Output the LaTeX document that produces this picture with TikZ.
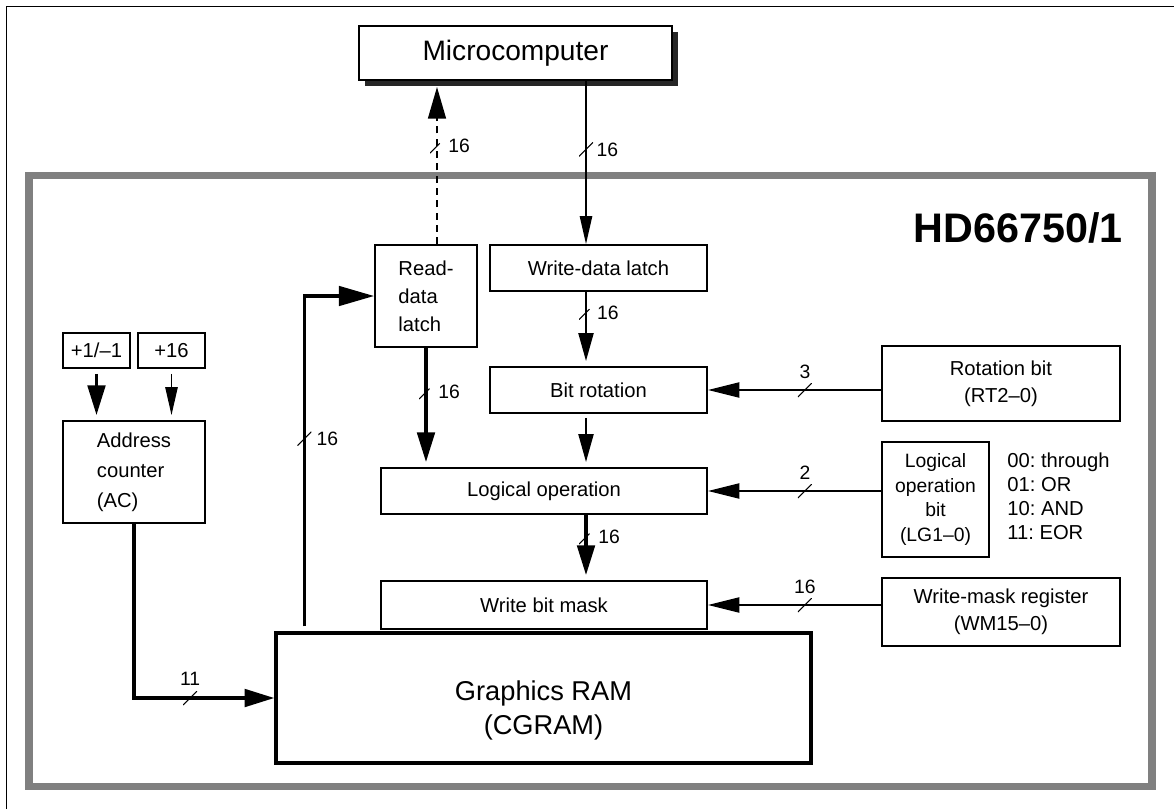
\documentclass[tikz,border=0pt]{standalone}
\usepackage{fontspec}
\setmainfont{Liberation Sans}
\usetikzlibrary{arrows.meta,shadows}

\tikzset{
  blk/.style={draw, line width=1pt, fill=white, inner sep=1pt, align=center, font=\fontsize{11.5}{15.3}\selectfont},
  hostbox/.style={blk, font=\fontsize{16}{19}\selectfont, drop shadow={shadow xshift=0.12cm, shadow yshift=-0.12cm, fill=black!85, opacity=1}},
  bigtip/.style={-{Triangle[length=17pt,width=10pt]}},
  thickbus/.style={line width=2pt, bigtip},
  midbus/.style={line width=1.4pt, -{Triangle[length=16pt,width=8.5pt]}},
  thinbus/.style={line width=1pt, -{Triangle[length=16pt,width=7pt]}},
  sidebus/.style={line width=1.5pt, -{Triangle[length=18pt,width=8.5pt]}},
  buscut/.style={inner sep=0pt, minimum size=0.28cm, label distance=0.1cm,
    path picture={\draw[solid, -, line width=0.6pt] (path picture bounding box.south west) -- (path picture bounding box.north east);}},
  buslabel/.style={font=\fontsize{11}{12}\selectfont, inner sep=1pt}
}

\begin{document}
\begin{tikzpicture}[x=0.02cm, y=-0.02cm]
\useasboundingbox (0,0) rectangle (1174,809);
% frames
\draw[line width=1pt] (6.5,809) -- (6.5,6.5) -- (1174,6.5);
\draw[black!50, line width=4.5pt] (29,175.5) rectangle (1152,786.5);
\node[font=\fontsize{23.5}{28}\selectfont\bfseries, anchor=base east, inner sep=0pt] (chip) at (1123,242) {HD66750/1};

% blocks
\node[hostbox, minimum width=6.26cm, minimum height=1.08cm] (micro) at (515.5,53) {Microcomputer};
\node[blk, align=left, minimum width=2.04cm, minimum height=2.04cm, font=\fontsize{11.5}{16}\selectfont] (rdl) at (426,296) {Read-\\data\\latch};
\node[blk, minimum width=4.34cm, minimum height=0.92cm] (wdl) at (598.5,268) {Write-data latch};
\node[blk, minimum width=4.34cm, minimum height=0.92cm] (bitrot) at (598.5,390) {Bit rotation};
\node[blk, minimum width=6.52cm, minimum height=0.92cm] (logop) at (544,491) {Logical operation};
\node[blk, minimum width=6.52cm, minimum height=0.96cm] (wbm) at (544,605) {Write bit mask};
\node[draw, line width=1.9pt, minimum width=10.7cm, minimum height=2.6cm, align=center, font=\fontsize{15.5}{19.3}\selectfont] (gram) at (543.5,698) {\rule{0pt}{25pt}Graphics RAM\\(CGRAM)};

\node[blk, minimum width=1.34cm, minimum height=0.7cm] (inc1) at (96.5,350.5) {+1/\textendash1};
\node[blk, minimum width=1.34cm, minimum height=0.7cm] (inc16) at (171.5,350.5) {+16};
\node[blk, align=left, minimum width=2.84cm, minimum height=2.04cm, font=\fontsize{11.5}{17}\selectfont] (ac) at (134,472) {Address\\counter\\(AC)};

\node[blk, minimum width=4.76cm, minimum height=1.5cm] (rotbit) at (1001,383.5) {Rotation bit\\(RT2\textendash0)};
\node[blk, minimum width=2.14cm, minimum height=2.3cm, font=\fontsize{11}{14.2}\selectfont] (logbit) at (935.5,499.5) {Logical\\operation\\bit\\(LG1\textendash0)};
\node[blk, minimum width=4.76cm, minimum height=1.36cm] (wmreg) at (1001,612) {Write-mask register\\(WM15\textendash0)};
\node[anchor=west, align=left, inner sep=0pt, font=\fontsize{11.5}{13.6}\selectfont\frenchspacing] (lgkey) at (1007,496) {00: through\\01: OR\\10: AND\\11: EOR};

% buses
\coordinate (rdtap) at ([xshift=0.22cm]rdl.north);
\coordinate (wrtap) at ([xshift=-0.25cm]wdl.north);
\draw[line width=1.5pt, dash pattern=on 4pt off 3pt, -{Triangle[length=18pt,width=10pt]}, shorten >=0.12cm] (rdtap) -- (rdtap |- micro.south)
  node[buscut, pos=0.6, label={[buslabel, name=lab1]right:16}] (cut1) {};
\draw[thinbus] (wrtap |- micro.south) -- (wrtap)
  node[buscut, pos=0.42, label={[buslabel, name=lab2]right:16}] (cut2) {};
\draw[midbus, shorten >=0.1cm] (wrtap |- wdl.south) -- (wrtap |- bitrot.north)
  node[buscut, pos=0.28, label={[buslabel, name=lab3]right:16}] (cut3) {};
\draw[midbus, shorten <=0.08cm, shorten >=0.1cm] (wrtap |- bitrot.south) -- (wrtap |- logop.north);
\draw[thickbus, shorten >=0.1cm] (rdl.south) -- (rdl.south |- logop.north)
  node[buscut, pos=0.37, label={[buslabel, name=lab4]right:16}] (cut4) {};
\draw[thickbus, shorten >=0.1cm] (wrtap |- logop.south) -- (wrtap |- wbm.north)
  node[buscut, pos=0.34, label={[buslabel, name=lab5]right:16}] (cut5) {};
\draw[thickbus, -{Triangle[length=20pt,width=11pt]}] ([xshift=0.6cm, yshift=0.1cm]gram.north west) |- (rdl.west)
  node[buscut, pos=0.284, label={[buslabel, name=lab6]right:16}] (cut6) {};
\draw[thickbus] (ac.south) |- (gram.west)
  node[buscut, pos=0.7, label distance=0.17cm, label={[buslabel, name=lab7]above:11}] (cut7) {};

% counter inputs
\draw[line width=2pt, -{Triangle[length=17pt,width=10pt]}, shorten <=0.1cm, shorten >=0.1cm] (inc1.south) -- (inc1.south |- ac.north);
\draw[thinbus, shorten <=0.1cm, shorten >=0.1cm] (inc16.south) -- (inc16.south |- ac.north);

% register inputs
\draw[sidebus] (bitrot.east -| rotbit.west) -- (bitrot.east)
  node[buscut, pos=0.44, label distance=0.17cm, label={[buslabel, name=lab8]above:3}] (cut8) {};
\draw[sidebus] (logop.east -| logbit.west) -- (logop.east)
  node[buscut, pos=0.44, label distance=0.17cm, label={[buslabel, name=lab9]above:2}] (cut9) {};
\draw[sidebus] (wbm.east -| wmreg.west) -- (wbm.east)
  node[buscut, pos=0.44, label distance=0.17cm, label={[buslabel, name=lab10]above:16}] (cut10) {};
\end{tikzpicture}
\end{document}
